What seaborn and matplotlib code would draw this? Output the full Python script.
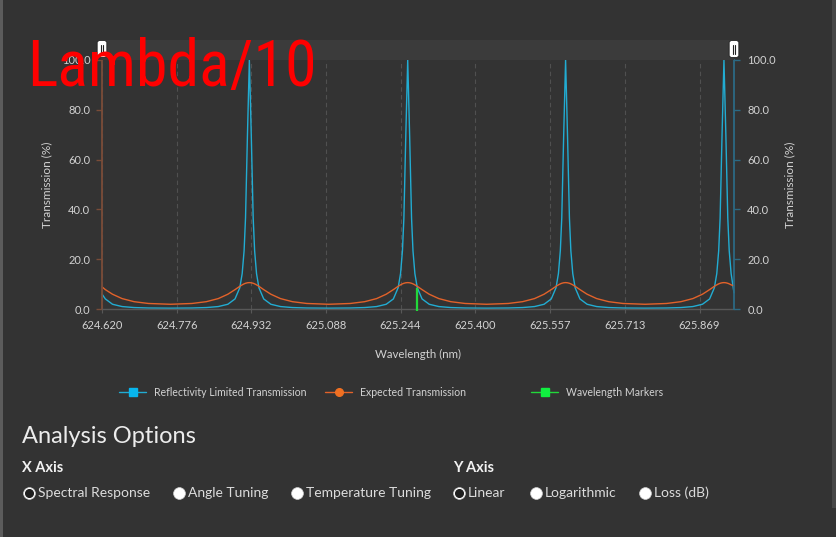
import pandas as pd
import matplotlib
matplotlib.use("Agg")
import matplotlib.pyplot as plt
import seaborn as sns
from matplotlib.patches import Rectangle, FancyBboxPatch
from matplotlib.lines import Line2D
from matplotlib import font_manager

# --- data ---------------------------------------------------------------
wavelength_nm = [
    624.620, 624.627, 624.642, 624.662, 624.687, 624.717, 624.763,
    624.808, 624.838, 624.863, 624.883, 624.898, 624.908, 624.913, 624.917, 624.920, 624.924, 624.928,
    624.932, 624.936, 624.939, 624.943, 624.948, 624.958, 624.973, 624.993, 625.018, 625.048, 625.094,
    625.139, 625.169, 625.194, 625.214, 625.229, 625.239, 625.244, 625.248, 625.251, 625.255, 625.259,
    625.263, 625.267, 625.270, 625.274, 625.279, 625.289, 625.304, 625.324, 625.349, 625.379, 625.424,
    625.469, 625.499, 625.524, 625.544, 625.559, 625.569, 625.574, 625.578, 625.581, 625.585, 625.589,
    625.593, 625.597, 625.600, 625.604, 625.609, 625.619, 625.634, 625.654, 625.679, 625.709, 625.755,
    625.800, 625.830, 625.855, 625.875, 625.890, 625.900, 625.905, 625.909, 625.912, 625.916, 625.920,
    625.924, 625.928, 625.931, 625.935, 625.941,
]
reflectivity_limited = [
    6.0, 4.04, 1.90, 0.98, 0.58, 0.40, 0.33,
    0.40, 0.58, 0.98, 1.90, 4.04, 8.54, 14.2, 23.4, 36.6, 69.8, 100.0,
    69.8, 36.6, 23.4, 14.2, 8.54, 4.04, 1.90, 0.98, 0.58, 0.40, 0.33,
    0.40, 0.58, 0.98, 1.90, 4.04, 8.54, 14.2, 23.4, 36.6, 69.8, 100.0,
    69.8, 36.6, 23.4, 14.2, 8.54, 4.04, 1.90, 0.98, 0.58, 0.40, 0.33,
    0.40, 0.58, 0.98, 1.90, 4.04, 8.54, 14.2, 23.4, 36.6, 69.8, 100.0,
    69.8, 36.6, 23.4, 14.2, 8.54, 4.04, 1.90, 0.98, 0.58, 0.40, 0.33,
    0.40, 0.58, 0.98, 1.90, 4.04, 8.54, 14.2, 23.4, 36.6, 69.8, 100.0,
    69.8, 36.6, 23.4, 14.2, 6.5,
]
expected_transmission = [
    8.9, 7.78, 5.93, 4.18, 2.94, 2.22, 1.90,
    2.22, 2.94, 4.18, 5.93, 7.78, 9.11, 9.70, 10.10, 10.33, 10.53, 10.6,
    10.53, 10.33, 10.10, 9.70, 9.11, 7.78, 5.93, 4.18, 2.94, 2.22, 1.90,
    2.22, 2.94, 4.18, 5.93, 7.78, 9.11, 9.70, 10.10, 10.33, 10.53, 10.6,
    10.53, 10.33, 10.10, 9.70, 9.11, 7.78, 5.93, 4.18, 2.94, 2.22, 1.90,
    2.22, 2.94, 4.18, 5.93, 7.78, 9.11, 9.70, 10.10, 10.33, 10.53, 10.6,
    10.53, 10.33, 10.10, 9.70, 9.11, 7.78, 5.93, 4.18, 2.94, 2.22, 1.90,
    2.22, 2.94, 4.18, 5.93, 7.78, 9.11, 9.70, 10.10, 10.33, 10.53, 10.6,
    10.53, 10.33, 10.10, 9.70, 9.3,
]
marker_wavelength = [625.279]
marker_level = [8.6]

x_ticks = [624.620, 624.776, 624.932, 625.088, 625.244, 625.400, 625.557, 625.713, 625.869]
x_tick_labels = ["624.620", "624.776", "624.932", "625.088", "625.244",
                 "625.400", "625.557", "625.713", "625.869"]
y_ticks = [0, 20, 40, 60, 80, 100]
y_tick_labels = ["0.0", "20.0", "40.0", "60.0", "80.0", "100.0"]
legend_labels = ["Reflectivity Limited Transmission", "Expected Transmission", "Wavelength Markers"]
x_axis_options = ["Spectral Response", "Angle Tuning", "Temperature Tuning"]
y_axis_options = ["Linear", "Logarithmic", "Loss (dB)"]

# --- style ---------------------------------------------------------------
BG = "#333333"
CYAN = "#22acd2"
ORANGE = "#e2622a"
GREEN = "#22d83a"
TXT = "#d2d2d2"

sns.set_style("dark")
plt.rcParams['font.family'] = ['Lato', 'DejaVu Sans']

W, H = 836, 537
def fx(px):
    return px / W
def fy(py):
    return 1 - py / H

fig = plt.figure(figsize=(W / 100, H / 100), dpi=100)
fig.patch.set_facecolor(BG)

# side strips of the page
fig.add_artist(Rectangle((0, 0), fx(3), 1, transform=fig.transFigure, color="#5c5c5c", lw=0))
fig.add_artist(Rectangle((fx(832), fy(508)), fx(4), 1 - fy(508), transform=fig.transFigure,
                         color="#474747", lw=0))

# range slider above the plot
fig.add_artist(Rectangle((fx(101), fy(60)), fx(734) - fx(101), fy(40) - fy(60),
                         transform=fig.transFigure, color="#3b3b3b", lw=0))

ax = fig.add_axes([fx(102), fy(309), fx(734) - fx(102), fy(60) - fy(309)])
ax.set_facecolor(BG)

df = pd.DataFrame({"wavelength": wavelength_nm,
                   "reflectivity": reflectivity_limited,
                   "expected": expected_transmission})

sns.lineplot(data=df, x="wavelength", y="reflectivity", color=CYAN, linewidth=1.0,
             estimator=None, sort=False, ax=ax)
sns.lineplot(data=df, x="wavelength", y="expected", color=ORANGE, linewidth=1.0,
             estimator=None, sort=False, ax=ax)
for ln in ax.lines:
    ln.set_clip_on(False)
ax.vlines(marker_wavelength, -0.8, marker_level, color=GREEN, linewidth=1.6, clip_on=False, zorder=4)

ax.set_xlim(624.620, 625.941)
ax.set_ylim(0, 100)
ax.set_xlabel("")
ax.set_ylabel("")
ax.set_xticks(x_ticks)
ax.set_xticklabels(x_tick_labels)
ax.set_yticks(y_ticks)
ax.set_yticklabels(y_tick_labels)

ax.grid(False)
ax.xaxis.grid(True, color="#505050", linestyle=(0, (4, 3)), linewidth=0.8)

for side in ["top", "right"]:
    ax.spines[side].set_visible(False)
ax.spines["left"].set_visible(True)
ax.spines["left"].set_color("#7a4c38")
ax.spines["left"].set_linewidth(1.3)
ax.spines["bottom"].set_visible(True)
ax.spines["bottom"].set_color("#585858")
ax.spines["bottom"].set_linewidth(1.0)

ax.tick_params(axis="x", bottom=True, color="#585858", length=3, width=0.8, pad=5,
               labelcolor=TXT, labelsize=8)
ax.tick_params(axis="y", left=True, color="#7a4c38", length=4.5, width=1.0, pad=4,
               labelcolor=TXT, labelsize=8)

ax2 = ax.twinx()
ax2.set_ylim(0, 100)
ax2.set_yticks(y_ticks)
ax2.set_yticklabels(y_tick_labels)
ax2.grid(False)
for side in ["top", "left", "bottom"]:
    ax2.spines[side].set_visible(False)
ax2.spines["right"].set_visible(True)
ax2.spines["right"].set_color("#2c6a84")
ax2.spines["right"].set_linewidth(1.3)
ax2.tick_params(axis="y", right=True, color="#2c6a84", length=4.5, width=1.0, pad=5,
                labelcolor=TXT, labelsize=8)

# slider handles
for hx in [102, 734]:
    fig.add_artist(FancyBboxPatch((fx(hx - 4), fy(57)), fx(8), fy(41) - fy(57),
                                  boxstyle="round,pad=0.001,rounding_size=0.004",
                                  transform=fig.transFigure, facecolor="white",
                                  edgecolor="#222222", linewidth=0.6, zorder=5))
    for dx in [-1.3, 1.3]:
        fig.add_artist(Line2D([fx(hx + dx)] * 2, [fy(44.5), fy(53.5)], transform=fig.transFigure,
                              color="#222222", linewidth=0.8, zorder=6))

# axis titles
fig.text(fx(47), fy(185), "Transmission (%)", rotation=90, ha="center", va="center",
         color=TXT, fontsize=8.5)
fig.text(fx(790), fy(185), "Transmission (%)", rotation=90, ha="center", va="center",
         color=TXT, fontsize=8.5)
fig.text(fx(418), fy(354), "Wavelength (nm)", ha="center", va="center", color=TXT, fontsize=8.3)

# legend, three fixed-width slots
handles = [
    Line2D([], [], color=CYAN, linewidth=1.0, marker="s", markersize=5.5, markerfacecolor="#08b6ee",
           markeredgecolor="#08b6ee"),
    Line2D([], [], color=ORANGE, linewidth=1.0, marker="o", markersize=5.5, markerfacecolor="#f07022",
           markeredgecolor="#f07022"),
    Line2D([], [], color=GREEN, linewidth=1.0, marker="s", markersize=5.5, markerfacecolor="#10f040",
           markeredgecolor="#10f040"),
]
for h, lab, lx in zip(handles, legend_labels, [119, 325, 531]):
    fig.legend(handles=[h], labels=[lab], loc="center left", bbox_to_anchor=(fx(lx), fy(392)),
               frameon=False, fontsize=7.6, labelcolor=TXT, handlelength=2.6,
               handletextpad=0.75, borderpad=0, borderaxespad=0)

# analysis options panel
fig.text(fx(22), fy(443), "Analysis Options", color="#ececec", fontsize=17,
         fontweight="normal", va="baseline")
fig.text(fx(22), fy(472), "X Axis", color="#f2f2f2", fontsize=10.5, fontweight="bold", va="baseline")
fig.text(fx(453), fy(472), "Y Axis", color="#f2f2f2", fontsize=10.5, fontweight="bold", va="baseline")

radio_x = [29, 179, 297, 459, 536, 645]
radio_selected = [True, False, False, True, False, False]
for cx, lab, sel in zip(radio_x, x_axis_options + y_axis_options, radio_selected):
    fig.add_artist(Line2D([fx(cx)], [fy(493)], transform=fig.transFigure, marker="o",
                          markersize=8.5, markerfacecolor="white", markeredgecolor="#cfcfcf",
                          markeredgewidth=0.5, linestyle="none"))
    if sel:
        fig.add_artist(Line2D([fx(cx)], [fy(493)], transform=fig.transFigure, marker="o",
                              markersize=5.5, markerfacecolor="#1e1e1e", markeredgecolor="#1e1e1e",
                              linestyle="none"))
    fig.text(fx(cx + 9), fy(493), lab, color="#dcdcdc", fontsize=10, va="center")

# red overlay caption: prefer a condensed face if one is installed
fonts = font_manager.fontManager.ttflist
condensed = [f.name for f in fonts
             if ("Condensed" in f.name or "Narrow" in f.name
                 or str(f.stretch) in ("condensed", "semi-condensed", "extra-condensed"))
             and f.style == "normal"]
preferred = ["Roboto Condensed", "Liberation Sans Narrow", "Open Sans Condensed",
             "DejaVu Sans Condensed", "Noto Sans Condensed"]
pick = next((p for p in preferred if p in condensed), None)
if pick is None and condensed:
    pick = condensed[0]
if pick is not None:
    fig.text(fx(27), fy(86), "Lambda/10", color="#ff0000", fontsize=46,
             family=[pick, "Liberation Sans"], fontstretch="condensed",
             va="baseline", zorder=10)
else:
    fig.text(fx(27), fy(86), "Lambda/10", color="#ff0000", fontsize=40.5,
             family=["Liberation Sans"], va="baseline", zorder=10)

fig.savefig("out.png", dpi=100, facecolor=fig.get_facecolor())
